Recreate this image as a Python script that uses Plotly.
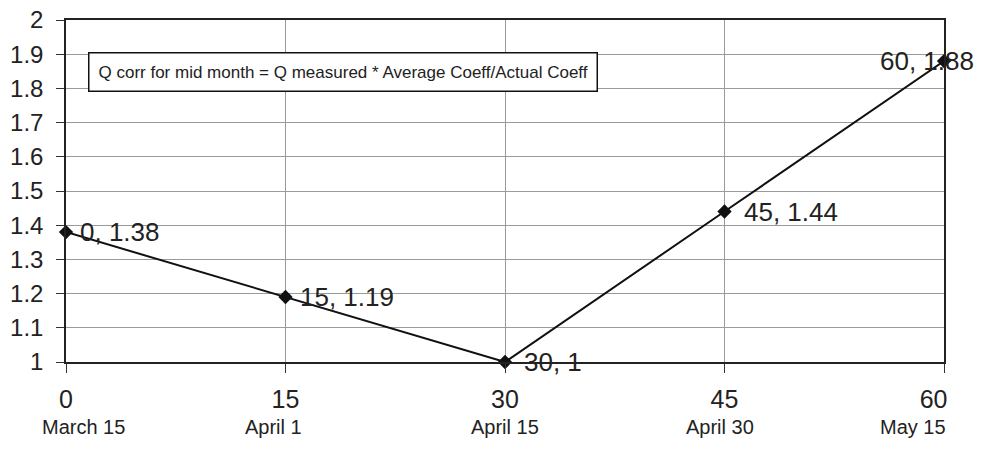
import plotly.graph_objects as go

days = [0, 15, 30, 45, 60]
dates = ["March 15", "April 1", "April 15", "April 30", "May 15"]
coeff = [1.38, 1.19, 1.00, 1.44, 1.88]
y_ticks = [1.0, 1.1, 1.2, 1.3, 1.4, 1.5, 1.6, 1.7, 1.8, 1.9, 2.0]
note = "Q corr for mid month = Q measured * Average Coeff/Actual Coeff"

FONT = "Liberation Sans, Arial, sans-serif"
NB = "&nbsp;"

fig = go.Figure()
fig.add_trace(go.Scatter(
    x=days, y=coeff, mode="lines+markers",
    line=dict(color="#111111", width=2),
    marker=dict(symbol="diamond", size=11, color="#111111"),
    cliponaxis=False, showlegend=False,
))

# data labels "x, y"
shifts = [12, 12, 17, 17, -66]
for d, c, s in zip(days, coeff, shifts):
    lbl = f"{d}, {c:g}"
    fig.add_annotation(x=d, y=c, text=lbl, showarrow=False, xanchor="left",
                       yanchor="middle", xshift=s,
                       font=dict(family=FONT, size=26, color="#222222"))

fig.add_annotation(xref="paper", yref="paper", x=0.025, y=0.905, xanchor="left",
                   yanchor="top", text=note, showarrow=False,
                   font=dict(family=FONT, size=17, color="#222222"),
                   bordercolor="#111111", borderwidth=1.5, borderpad=9,
                   bgcolor="white")

# date labels under the day numbers (small horizontal nudges as in the original)
date_shift = [17, -12, 0, -5, -31]
for d, t, s in zip(days, dates, date_shift):
    fig.add_annotation(x=d, xref="x", y=0, yref="paper", text=t, showarrow=False,
                       xanchor="center", yanchor="middle", xshift=s, yshift=-65,
                       font=dict(family=FONT, size=20, color="#222222"))

num_text = [f"{d}" for d in days]
num_text[-1] = f"{days[-1]}{NB*3}"

fig.update_layout(
    width=974, height=445,
    margin=dict(l=58, r=38, t=12, b=91),
    paper_bgcolor="white", plot_bgcolor="white",
    font=dict(family=FONT, color="#222222"),
    xaxis=dict(range=[0, 60], tickvals=days, ticktext=num_text, automargin=False,
               ticklabeloverflow="allow",
               tickfont=dict(size=25), showgrid=True, gridcolor="#9a9a9a",
               gridwidth=1, showline=True, linecolor="#222222", linewidth=1.5,
               mirror=True, ticks="outside", ticklen=9, tickcolor="#333333",
               zeroline=False, ticklabelstandoff=5),
    yaxis=dict(range=[1, 2], tickvals=y_ticks, ticktext=[f"{v:g}" for v in y_ticks],
               automargin=False, ticklabeloverflow="allow",
               tickfont=dict(size=24), showgrid=True, gridcolor="#9a9a9a",
               gridwidth=1, showline=True, linecolor="#222222", linewidth=1.5,
               mirror=True, ticks="outside", ticklen=8, tickcolor="#333333",
               zeroline=False, ticklabelstandoff=8),
)

fig.write_html("out.html")
